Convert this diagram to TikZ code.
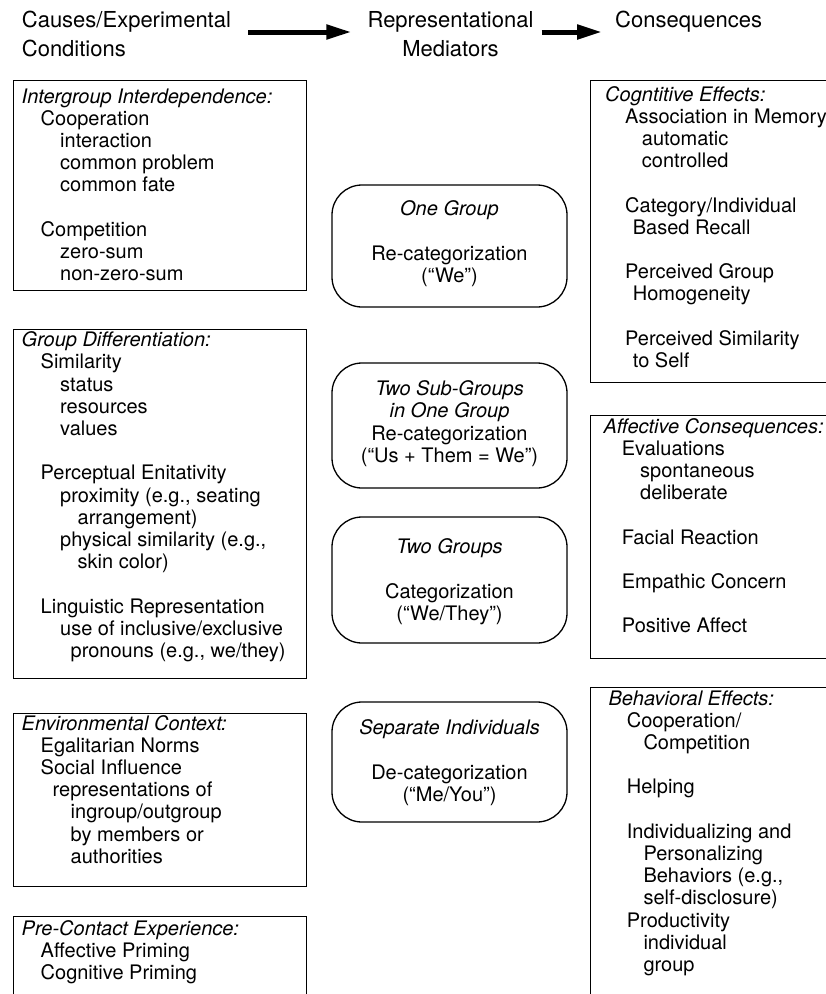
\documentclass[tikz,border=0pt]{standalone}
\usepackage{fontspec}
\setmainfont{TeX Gyre Heros}
\usetikzlibrary{arrows.meta}

\tikzset{
  box/.style={draw, line width=1.3pt, anchor=north west, inner sep=0pt},
  medbox/.style={draw, line width=1.3pt, rounded corners=30pt, inner sep=0pt, minimum width=235pt},
  body/.style={anchor=base west, inner sep=0pt, font=\fontsize{20}{22.2}\selectfont},
  midtext/.style={anchor=base, inner sep=0pt, font=\fontsize{20}{22.6}\selectfont},
  head/.style={inner sep=0pt, font=\fontsize{22}{28}\selectfont},
  flow/.style={line width=5pt, -{Triangle[length=25pt,width=14pt]}},
}

\newcommand{\lst}[2]{\begin{minipage}[t]{#1pt}\setlength{\parindent}{0pt}#2\end{minipage}}
\newcommand{\ctr}[1]{\begin{minipage}[t]{235pt}\centering #1\end{minipage}}
\newcommand{\gap}{\mbox{}\\}

\begin{document}
\begin{tikzpicture}[x=1pt, y=-1pt]
\useasboundingbox (0,0) rectangle (826,994);
\clip (0,0) rectangle (826,994);

% column headings and flow arrows
\node[head, anchor=base west] (hcause) at (21.7,27.5) {Causes/Experimental};
\node[head, anchor=base west] (hcond) at (21.7,56) {Conditions};
\node[head, anchor=base] (hrep) at (450.5,27.5) {Representational};
\node[head, anchor=base] (hmed) at (450.5,56) {Mediators};
\node[head, anchor=base west] (hcons) at (615,27.5) {Consequences};
\draw[flow] ([shift={(17,4.5)}]hcause.base east) -- ([shift={(-16,4.5)}]hrep.base west);
\draw[flow] ([shift={(8,4.5)}]hrep.base east) -- ([shift={(-13,4.5)}]hcons.base west);

% left column: causes
\node[box, minimum width=292.8pt, minimum height=210pt] (inter) at (12.7,80) {};
\node[body] (tinter) at (21.5,103) {\lst{290}{%
\textit{Intergroup Interdependence:}\\
\hspace*{19pt}Cooperation\\
\hspace*{38.5pt}interaction\\
\hspace*{38.5pt}common problem\\
\hspace*{38.5pt}common fate\\
\gap
\hspace*{19pt}Competition\\
\hspace*{38.5pt}zero-sum\\
\hspace*{38.5pt}non-zero-sum}};

\node[box, minimum width=292.8pt, minimum height=349pt] (diff) at (12.7,329) {};
\node[body] (tdiff) at (21.5,346.7) {\lst{290}{%
\textit{Group Differentiation:}\\
\hspace*{19pt}Similarity\\
\hspace*{38.5pt}status\\
\hspace*{38.5pt}resources\\
\hspace*{38.5pt}values\\
\gap
\hspace*{19pt}Perceptual Enitativity\\
\hspace*{38.5pt}proximity (e.g., seating\\
\hspace*{56pt}arrangement)\\
\hspace*{38.5pt}physical similarity (e.g.,\\
\hspace*{56pt}skin color)\\
\gap
\hspace*{19pt}Linguistic Representation\\
\hspace*{38.5pt}use of inclusive/exclusive\\
\hspace*{49pt}pronouns (e.g., we/they)}};

\node[box, minimum width=292.8pt, minimum height=173pt] (env) at (12.7,713) {};
\node[body] (tenv) at (21.5,730) {\lst{290}{%
\textit{Environmental Context:}\\
\hspace*{19pt}Egalitarian Norms\\
\hspace*{19pt}Social Influence\\
\hspace*{31pt}representations of\\
\hspace*{49pt}ingroup/outgroup\\
\hspace*{49pt}by members or\\
\hspace*{49pt}authorities}};

\node[box, minimum width=292.8pt, minimum height=120pt] (pre) at (12.7,916) {};
\node[body] (tpre) at (21.5,935) {\lst{290}{%
\textit{Pre-Contact Experience:}\\
\hspace*{19pt}Affective Priming\\
\hspace*{19pt}Cognitive Priming}};

% middle column: representations
\node[medbox, minimum height=122pt] (one) at (449.5,246) {};
\node[midtext] (tone) at (449.5,215) {\ctr{%
\textit{One Group}\\ \gap Re-categorization\\ (“We”)}};

\node[medbox, minimum height=125pt] (sub) at (449.5,425.5) {};
\node[midtext] (tsub) at (449.5,395) {\ctr{%
\textit{Two Sub-Groups}\\ \textit{in One Group}\\ Re-categorization\\ (“Us + Them = We”)}};

\node[medbox, minimum height=126pt] (two) at (449.5,580) {};
\node[midtext] (ttwo) at (449.5,553) {\ctr{%
\textit{Two Groups}\\ \gap Categorization\\ (“We/They”)}};

\node[medbox, minimum height=120pt] (sep) at (449.5,762) {};
\node[midtext] (tsep) at (449.5,734) {\ctr{%
\textit{Separate Individuals}\\ \gap De-categorization\\ (“Me/You”)}};

% right column: consequences
\node[box, minimum width=260pt, minimum height=302pt] (cog) at (590,80) {};
\node[body] (tcog) at (605,101) {\lst{260}{%
\textit{Cogntitive Effects:}\\
\hspace*{20pt}Association in Memory\\
\hspace*{36.7pt}automatic\\
\hspace*{36.7pt}controlled\\
\gap
\hspace*{20pt}Category/Individual\\
\hspace*{27.7pt}Based Recall\\
\gap
\hspace*{20pt}Perceived Group\\
\hspace*{27.7pt}Homogeneity\\
\gap
\hspace*{20pt}Perceived Similarity\\
\hspace*{27.7pt}to Self}};

\node[box, minimum width=260pt, minimum height=243pt] (aff) at (590,415) {};
\node[body] (taff) at (603.3,433) {\lst{260}{%
\textit{Affective Consequences:}\\
\hspace*{18.4pt}Evaluations\\
\hspace*{36.7pt}spontaneous\\
\hspace*{36.7pt}deliberate\\
\gap
\hspace*{18.4pt}Facial Reaction\\
\gap
\hspace*{18.4pt}Empathic Concern\\
\gap
\hspace*{18.4pt}Positive Affect}};

\node[box, minimum width=260pt, minimum height=340pt] (beh) at (590,687) {};
\node[body] (tbeh) at (608.3,705) {\lst{260}{%
\textit{Behavioral Effects:}\\
\hspace*{18.4pt}Cooperation/\\
\hspace*{35pt}Competition\\
\gap
\hspace*{18.4pt}Helping\\
\gap
\hspace*{18.4pt}Individualizing and\\
\hspace*{35pt}Personalizing\\
\hspace*{35pt}Behaviors (e.g.,\\
\hspace*{35pt}self-disclosure)\\
\hspace*{18.4pt}Productivity\\
\hspace*{35pt}individual\\
\hspace*{35pt}group}};
\end{tikzpicture}
\end{document}
